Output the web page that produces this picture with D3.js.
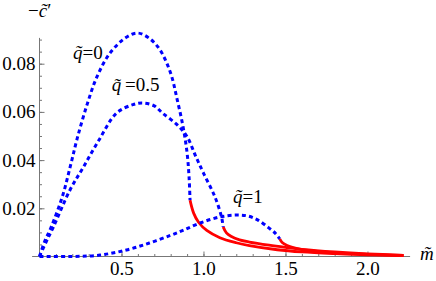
<!DOCTYPE html>
<html>
<head>
<meta charset="utf-8">
<script src="https://cdn.jsdelivr.net/npm/d3@7"></script>
<style>
  body { margin: 0; background: #fff; }
</style>
</head>
<body>
<svg id="chart"></svg>
<script>
// Data: m~ values and -c~' values for each branch
const q0BlueM = [0, 0.03, 0.07, 0.14, 0.19, 0.23, 0.29, 0.35, 0.43, 0.53, 0.60, 0.67, 0.735, 0.80, 0.84, 0.875, 0.90, 0.912, 0.918];
const q0BlueC = [0, 0.006, 0.012, 0.025, 0.038, 0.049, 0.063, 0.0745, 0.0844, 0.091, 0.0927, 0.0905, 0.0857, 0.076, 0.065, 0.054, 0.043, 0.033, 0.0234];
const q0RedM = [0.918, 0.94, 0.97, 1.02, 1.1, 1.2, 1.28, 1.45, 1.6, 1.8, 2.0, 2.22];
const q0RedC = [0.0234, 0.018, 0.0142, 0.0108, 0.0078, 0.0057, 0.0045, 0.0028, 0.0019, 0.0012, 0.0007, 0.0004];

const q05BlueM = [0, 0.04, 0.083, 0.186, 0.267, 0.36, 0.47, 0.57, 0.63, 0.70, 0.75, 0.84, 0.90, 0.95, 1.0, 1.07, 1.11, 1.12];
const q05BlueC = [0, 0.006, 0.012, 0.0276, 0.037, 0.048, 0.0595, 0.063, 0.0637, 0.0625, 0.0595, 0.0546, 0.0497, 0.042, 0.0346, 0.0247, 0.0164, 0.0123];
const q05RedM = [1.12, 1.14, 1.17, 1.22, 1.28, 1.4, 1.5, 1.6, 1.8, 2.0, 2.22];
const q05RedC = [0.0123, 0.0098, 0.0083, 0.0069, 0.006, 0.0047, 0.0038, 0.003, 0.0019, 0.0011, 0.0005];

const q1BlueM = [0, 0.2, 0.37, 0.53, 0.67, 0.8, 0.88, 0.98, 1.10, 1.20, 1.27, 1.33, 1.40, 1.44, 1.465];
const q1BlueC = [0, 0, 0.0006, 0.0027, 0.0056, 0.0088, 0.011, 0.0139, 0.0164, 0.0172, 0.0168, 0.0152, 0.0118, 0.0095, 0.0073];
const q1RedM = [1.465, 1.48, 1.51, 1.56, 1.65, 1.8, 2.0, 2.22];
const q1RedC = [0.0073, 0.0058, 0.0046, 0.0035, 0.0024, 0.0015, 0.0009, 0.0005];

const xTicks = [0.5, 1.0, 1.5, 2.0];
const yTicks = [0.02, 0.04, 0.06, 0.08];
const xMinor = d3.range(0.1, 2.25, 0.1);
const yMinor = d3.range(0.005, 0.091, 0.005);

const curveLabels = [
  {name: "q0", m: 0.205, c: 0.082, text: "=0", gap: ""},
  {name: "q05", m: 0.44, c: 0.0685, text: "=0.5", gap: "\u2009"},
  {name: "q1", m: 1.18, c: 0.0223, text: "=1", gap: ""}
];

const width = 436, height = 281;
const serif = '"Liberation Serif", "Times New Roman", serif';
const fs = 19;

const x = d3.scaleLinear().domain([0, 2.26]).range([39.5, 410.1]);
const y = d3.scaleLinear().domain([0, 0.0907]).range([256.5, 37.9]);

const svg = d3.select("#chart").attr("width", width).attr("height", height);

// Axes
const axisColor = "#777";

svg.append("line")
  .attr("x1", x(-0.045)).attr("x2", x.range()[1])
  .attr("y1", y(0)).attr("y2", y(0))
  .attr("stroke", axisColor).attr("stroke-width", 1);
svg.append("line")
  .attr("x1", x(0)).attr("x2", x(0))
  .attr("y1", y(0)).attr("y2", y.range()[1])
  .attr("stroke", axisColor).attr("stroke-width", 1);

const gxMinor = svg.append("g").attr("transform", `translate(0, ${y(0)})`)
  .call(d3.axisBottom(x).tickValues(xMinor).tickSize(-2.5).tickFormat(""));
const gx = svg.append("g").attr("transform", `translate(0, ${y(0)})`)
  .call(d3.axisBottom(x).tickValues(xTicks).tickSize(-5).tickFormat(d3.format(".1f")));
const gyMinor = svg.append("g").attr("transform", `translate(${x(0)}, 0)`)
  .call(d3.axisLeft(y).tickValues(yMinor).tickSize(-2.5).tickFormat(""));
const gy = svg.append("g").attr("transform", `translate(${x(0)}, 0)`)
  .call(d3.axisLeft(y).tickValues(yTicks).tickSize(-5).tickPadding(4).tickFormat(d3.format(".2f")));

[gxMinor, gx, gyMinor, gy].forEach(g => {
  g.attr("font-family", serif).attr("font-size", fs);
  g.select(".domain").remove();
  g.selectAll(".tick line").attr("stroke", axisColor);
  g.selectAll("text").attr("fill", "#000");
});
gx.selectAll("text").attr("y", 18.5).attr("dy", 0);

// Curves
const line = d3.line()
  .x(d => x(d[0]))
  .y(d => y(d[1]))
  .curve(d3.curveCatmullRom.alpha(0.5));

const zip = (a, b) => a.map((v, i) => [v, b[i]]);

const redSeries = [zip(q0RedM, q0RedC), zip(q05RedM, q05RedC), zip(q1RedM, q1RedC)];
const blueSeries = [zip(q0BlueM, q0BlueC), zip(q05BlueM, q05BlueC), zip(q1BlueM, q1BlueC)];

svg.selectAll("path.red").data(redSeries).enter().append("path")
  .attr("class", "red")
  .attr("fill", "none")
  .attr("stroke", "#f00")
  .attr("stroke-width", 2.8)
  .attr("d", line);

svg.selectAll("path.blue").data(blueSeries).enter().append("path")
  .attr("class", "blue")
  .attr("fill", "none")
  .attr("stroke", "#00f")
  .attr("stroke-width", 3)
  .attr("stroke-dasharray", "4,3.2")
  .attr("d", line);

// Curve labels
curveLabels.forEach(l => {
  const t = svg.append("text")
    .attr("x", x(l.m)).attr("y", y(l.c))
    .attr("font-family", serif)
    .attr("font-size", fs);
  t.append("tspan").attr("font-style", "italic").text("q\u0303");
  t.append("tspan").text(l.gap + l.text);
});

// Axis labels
const cl = svg.append("text")
  .attr("x", 28).attr("y", 17)
  .attr("font-family", serif)
  .attr("font-size", fs);
cl.append("tspan").text("\u2212");
cl.append("tspan").attr("font-style", "italic").text("c\u0303");
cl.append("tspan").text("\u2032");

svg.append("text")
  .attr("x", x.range()[1] + 10).attr("y", y(0) + 3)
  .attr("font-family", serif)
  .attr("font-size", fs)
  .attr("font-style", "italic")
  .text("m\u0303");
</script>
</body>
</html>
